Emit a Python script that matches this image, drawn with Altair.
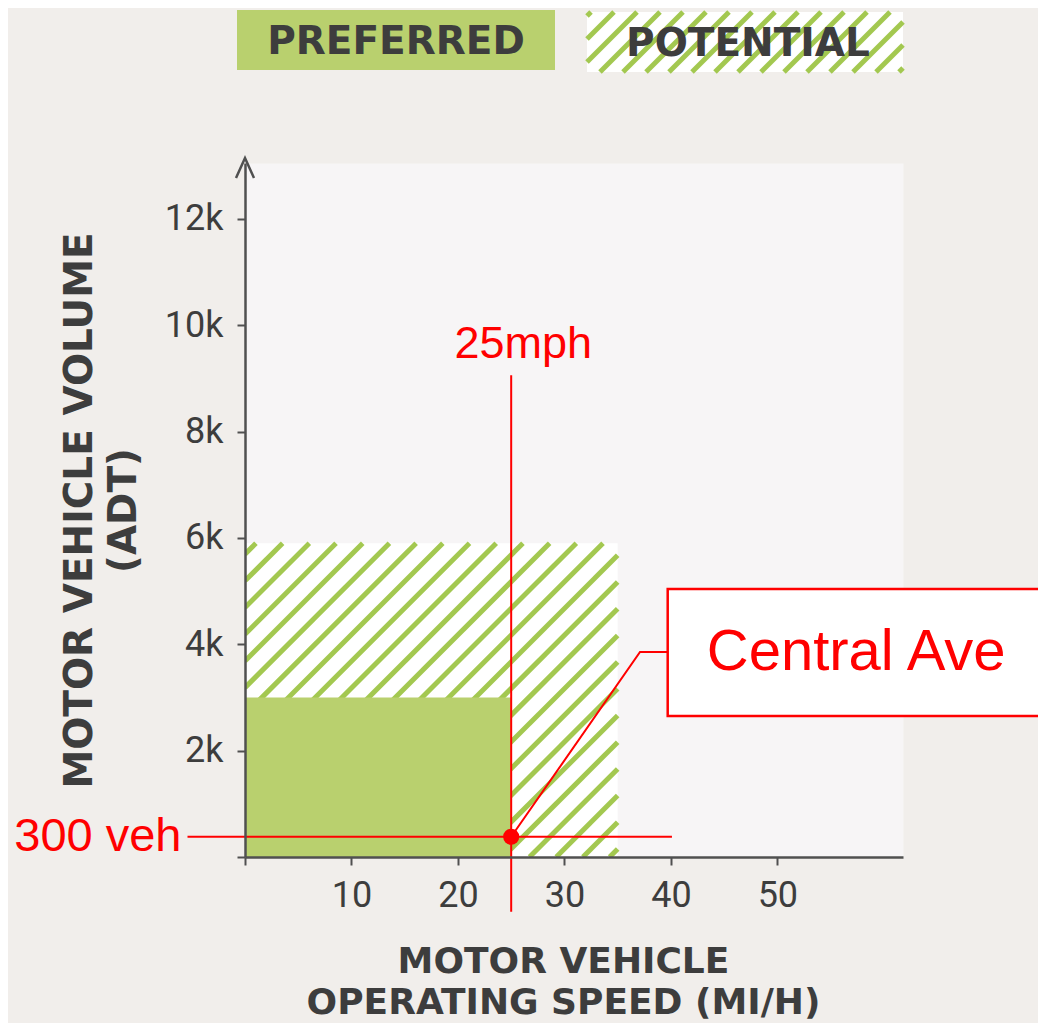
import altair as alt
import numpy as np
import pandas as pd

# ---------------- data ----------------
zone_names = ["Potential", "Preferred"]
zone_speed_max = [35, 25]          # mph
zone_volume_max = [5900, 3000]     # ADT

x_ticks = [0, 10, 20, 30, 40, 50]
y_ticks = [0, 2000, 4000, 6000, 8000, 10000, 12000]
x_max = 61.8
y_max = 13050

street_name = "Central Ave"
street_speed = 25
street_volume = 380
speed_label = "25mph"
volume_label = "300 veh"
speed_line_volume = [-1030, 9060]
volume_line_speed = [-5.4, 40.1]
leader_speed = [25, 37.1, 39.7]
leader_volume = [380, 3855, 3855]
box_speed = [39.7, 75.1]
box_volume = [2650, 5040]

legend_labels = ["PREFERRED", "POTENTIAL"]
x_title = ["MOTOR VEHICLE", "OPERATING SPEED (MI/H)"]
y_title = ["MOTOR VEHICLE VOLUME", "(ADT)"]

# ---------------- styling ----------------
W, H = 658, 694
kx = W / x_max
ky = H / y_max
GREEN = "#b9d06e"
STRIPE = "#a3c850"
RED = "#ff0000"
AX = "#505050"
TXT = "#3d3d3d"

xs = alt.Scale(domain=[0, x_max], nice=False, zero=False)
ys = alt.Scale(domain=[0, y_max], nice=False, zero=False)

x_axis = alt.Axis(
    values=x_ticks, labelExpr="datum.value == 0 ? '' : datum.label",
    grid=False, domainColor=AX, domainWidth=2.5, tickColor=AX, tickWidth=2,
    tickSize=8, labelFont="Roboto", labelFontSize=36, labelColor=TXT,
    labelPadding=13, title=x_title, titleFont="DejaVu Sans",
    titleFontWeight="bold", titleFontSize=36, titleColor=TXT,
    titleLineHeight=41, titleX=318, titleY=104, titleAlign="center",
    titleBaseline="middle", titleAnchor="middle", zindex=1)
y_axis = alt.Axis(
    values=y_ticks, labelExpr="datum.value == 0 ? '' : (datum.value / 1000) + 'k'",
    grid=False, domainColor=AX, domainWidth=2.5, tickColor=AX, tickWidth=2,
    tickSize=8, labelFont="Roboto", labelFontSize=36, labelColor=TXT,
    labelPadding=14, title=y_title, titleFont="DejaVu Sans",
    titleFontWeight="bold", titleFontSize=39, titleColor=TXT,
    titleLineHeight=44, titleAngle=270, titleX=-166, titleY=347,
    titleAlign="center", titleBaseline="middle", titleAnchor="middle", zindex=1)


def X(f):
    return alt.X(f, type="quantitative", scale=xs, axis=x_axis)


def Y(f):
    return alt.Y(f, type="quantitative", scale=ys, axis=y_axis)


def hatch(width_px, height_px, spacing=26.7, phase=0.0):
    segs = []
    cs = np.arange(-width_px - spacing + phase, height_px + spacing, spacing)
    for c in cs:
        u1 = max(0.0, -c)
        u2 = min(width_px, height_px - c)
        if u2 - u1 <= 0.5:
            continue
        segs.append((u1, u1 + c, u2, u2 + c))
    return segs


# zones
zones = pd.DataFrame({"zone": zone_names, "x0": 0, "x1": zone_speed_max,
                      "y0": 0, "y1": zone_volume_max})
pot = zones[zones.zone == "Potential"]
pref = zones[zones.zone == "Preferred"]

# main hatch (derived from the potential zone extent)
pw = float(pot.x1.iloc[0]) * kx
ph = float(pot.y1.iloc[0]) * ky
hs = hatch(pw, ph, phase=8)
hatch_df = pd.DataFrame({
    "x": [s[0] / kx for s in hs], "y": [s[1] / ky for s in hs],
    "x2": [s[2] / kx for s in hs], "y2": [s[3] / ky for s in hs],
})

# legend hatch (pixel box converted into scale units)
lg_left, lg_bottom, lg_w, lg_h = 342, -91, 316, 60
ls = hatch(lg_w, lg_h, spacing=23, phase=4)
lhatch_df = pd.DataFrame({
    "x": [(lg_left + s[0]) / kx for s in ls],
    "y": [(H - (lg_bottom - s[1])) / ky for s in ls],
    "x2": [(lg_left + s[2]) / kx for s in ls],
    "y2": [(H - (lg_bottom - s[3])) / ky for s in ls],
})

pot_rect = alt.Chart(pot).mark_rect(color="white").encode(
    x=X("x0"), x2="x1", y=Y("y0"), y2="y1")
hatch_layer = alt.Chart(hatch_df).mark_rule(
    color=STRIPE, strokeWidth=5, strokeCap="butt", clip=True).encode(
    x=X("x"), y=Y("y"), x2="x2", y2="y2")
pref_rect = alt.Chart(pref).mark_rect(color=GREEN).encode(
    x=X("x0"), x2="x1", y=Y("y0"), y2="y1")

vline = alt.Chart(pd.DataFrame({"x": [street_speed], "y": [speed_line_volume[0]],
                                "y2": [speed_line_volume[1]]})).mark_rule(
    color=RED, strokeWidth=2).encode(x=X("x"), y=Y("y"), y2="y2")
hline = alt.Chart(pd.DataFrame({"x": [volume_line_speed[0]], "x2": [volume_line_speed[1]],
                                "y": [street_volume]})).mark_rule(
    color=RED, strokeWidth=2).encode(x=X("x"), x2="x2", y=Y("y"))
leader = alt.Chart(pd.DataFrame({"x": leader_speed, "y": leader_volume,
                                 "o": [0, 1, 2]})).mark_line(
    color=RED, strokeWidth=2).encode(x=X("x"), y=Y("y"), order="o:Q")
box = alt.Chart(pd.DataFrame({"x": [box_speed[0]], "x2": [box_speed[1]],
                              "y": [box_volume[0]], "y2": [box_volume[1]]})).mark_rect(
    fill="white", stroke=RED, strokeWidth=2.5).encode(x=X("x"), x2="x2", y=Y("y"), y2="y2")
box_text = alt.Chart(pd.DataFrame({"x": [sum(box_speed) / 2], "y": [sum(box_volume) / 2],
                                   "t": [street_name]})).mark_text(
    font="Liberation Sans", fontSize=58, color=RED, baseline="middle", align="center").encode(
    x=X("x"), y=Y("y"), text="t:N")
dot = alt.Chart(pd.DataFrame({"x": [street_speed], "y": [street_volume]})).mark_circle(
    color=RED, size=260, opacity=1).encode(x=X("x"), y=Y("y"))
speed_text = alt.Chart(pd.DataFrame({"x": [street_speed], "y": [9380],
                                     "t": [speed_label]})).mark_text(
    font="Liberation Sans", fontSize=45, color=RED, baseline="alphabetic", align="center",
    dx=12).encode(x=X("x"), y=Y("y"), text="t:N")
vol_text = alt.Chart(pd.DataFrame({"x": [volume_line_speed[0]], "y": [street_volume],
                                   "t": [volume_label]})).mark_text(
    font="Liberation Sans", fontSize=47, color=RED, baseline="middle", align="right",
    dx=-6).encode(x=X("x"), y=Y("y"), text="t:N")

arrow = alt.Chart(pd.DataFrame({"x": [0], "y": [y_max]})).mark_point(
    shape="M -0.45 1 L 0 0 L 0.45 1", size=1600, filled=False, stroke=AX,
    strokeWidth=2.5, opacity=1, yOffset=-5).encode(x=X("x"), y=Y("y"))

# legend
leg_pref = alt.Chart(pd.DataFrame({"a": [0]})).mark_rect(color=GREEN).encode(
    x=alt.value(-8), x2=alt.value(310), y=alt.value(-153), y2=alt.value(-93))
leg_pot_bg = alt.Chart(pd.DataFrame({"a": [0]})).mark_rect(color="white").encode(
    x=alt.value(lg_left), x2=alt.value(lg_left + lg_w), y=alt.value(lg_bottom - lg_h),
    y2=alt.value(lg_bottom))
leg_hatch = alt.Chart(lhatch_df).mark_rule(color=STRIPE, strokeWidth=5, strokeCap="butt").encode(
    x=X("x"), y=Y("y"), x2="x2", y2="y2")
leg_t1 = alt.Chart(pd.DataFrame({"a": [0]})).mark_text(
    text=legend_labels[0], font="DejaVu Sans", fontWeight="bold", fontSize=39, color=TXT,
    align="center", baseline="middle").encode(x=alt.value(151), y=alt.value(-121))
leg_t2 = alt.Chart(pd.DataFrame({"a": [0]})).mark_text(
    text=legend_labels[1], font="DejaVu Sans", fontWeight="bold", fontSize=39, color=TXT,
    align="center", baseline="middle").encode(x=alt.value(503), y=alt.value(-119))

chart = alt.layer(
    pot_rect, hatch_layer, pref_rect, vline, hline, leader, box, box_text,
    dot, speed_text, vol_text, arrow, leg_pref, leg_pot_bg, leg_hatch, leg_t1, leg_t2,
).properties(
    width=W, height=H,
    autosize=alt.AutoSizeParams(type="none"),
    padding={"left": 237, "top": 155, "right": 135, "bottom": 166},
    background="#f1eeeb",
).configure_view(fill="#f7f5f6", stroke="transparent")

chart.save("out.html", embed_options={"renderer": "svg", "actions": False})
